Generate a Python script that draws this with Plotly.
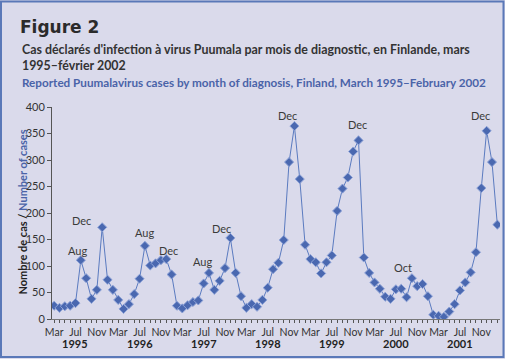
import plotly.graph_objects as go

# ---- data ----
months = ["Mar", "Apr", "May", "Jun", "Jul", "Aug", "Sep", "Oct", "Nov", "Dec", "Jan", "Feb"]
cases = [25, 21, 24, 25, 30, 111, 77, 38, 55, 173,
         74, 55, 36, 19, 28, 47, 76, 138, 101, 105, 111, 113,
         84, 25, 20, 26, 32, 35, 67, 87, 55, 72, 96, 153,
         87, 43, 21, 28, 23, 36, 59, 94, 106, 149, 296, 364,
         264, 140, 113, 107, 86, 107, 120, 204, 246, 267, 316, 337,
         116, 87, 69, 57, 42, 38, 56, 57, 41, 77, 62, 66,
         43, 8, 6, 4, 14, 28, 54, 69, 88, 126, 247, 355,
         296, 178]
year_labels = ["1995", "1996", "1997", "1998", "1999", "2000", "2001"]
peak_labels = [(5, "Aug"), (9, "Dec"), (17, "Aug"), (21, "Dec"), (29, "Aug"),
               (33, "Dec"), (45, "Dec"), (57, "Dec"), (67, "Oct"), (81, "Dec")]
y_ticks = [0, 50, 100, 150, 200, 250, 300, 350, 400]

# ---- style ----
peak_shifts = [(-3, 10), (-21, 7), (0, 13), (2, 9), (-6, 11),
               (-9, 9), (-7, 11), (-1, 16), (-9, 11), (-6, 15)]
BG = "#dadaeb"
BLUE = "#4a63a8"
LINE = "#5b7bc0"
COND = "Lato, Roboto, Liberation Sans, Arial"
SANS = "Lato, Open Sans, Liberation Sans, Arial"

x = list(range(len(cases)))
month_text = [months[i % 12] for i in x]
tick_text = [m if i % 4 == 0 else "" for i, m in enumerate(month_text)]

fig = go.Figure()
fig.add_trace(go.Scatter(
    x=x, y=cases, mode="lines+markers",
    line=dict(color=LINE, width=1),
    marker=dict(symbol="diamond", size=7, color="#4a68b0",
                line=dict(color="#8ea3d8", width=1)),
    hoverinfo="skip", showlegend=False))

W, H = 505, 359
L, R, T, B = 52, 5, 107, 40
pw, ph = W - L - R, H - T - B

def px(xp):
    return (xp - L) / pw

def py(yp):
    return (H - B - yp) / ph

annotations = []
for (i, lab), (dx, dy) in zip(peak_labels, peak_shifts):
    annotations.append(dict(x=i, y=cases[i], text=lab, showarrow=False,
                            xshift=dx, yshift=dy, yanchor="middle",
                            font=dict(family=SANS, size=11, color="#3a3a3a")))
for k, yl in enumerate(year_labels):
    annotations.append(dict(x=4 + 12 * k, y=0, xref="x", yref="paper", text="<b>" + yl + "</b>",
                            showarrow=False, yshift=-24, yanchor="middle",
                            font=dict(family=SANS, size=11, color="#222")))
# titles
annotations.append(dict(x=px(18), y=py(27), xref="paper", yref="paper", xanchor="left",
                        yanchor="middle", showarrow=False, text="<b>Figure 2</b>",
                        font=dict(family="DejaVu Sans, Arial Black", size=17, color="#2b2b2b")))
annotations.append(dict(x=px(20), y=py(40), xref="paper", yref="paper", xanchor="left",
                        yanchor="top", align="left", showarrow=False,
                        text="<b>Cas déclarés d'infection à virus Puumala par mois de diagnostic, en Finlande, mars<br>1995–février 2002</b>",
                        font=dict(family=COND, size=12.4, color="#333")))
annotations.append(dict(x=px(20), y=py(82), xref="paper", yref="paper", xanchor="left",
                        yanchor="middle", showarrow=False,
                        text="<b>Reported Puumalavirus cases by month of diagnosis, Finland, March 1995–February 2002</b>",
                        font=dict(family=COND, size=11.7, color=BLUE)))
annotations.append(dict(x=px(13), y=py(212), xref="paper", yref="paper", textangle=-90,
                        showarrow=False,
                        text="<b>Nombre de cas / </b><span style='color:" + BLUE + "'><b>Number of cases</b></span>",
                        font=dict(family=COND, size=11, color="#222")))

fig.update_layout(
    width=W, height=H,
    margin=dict(l=L, r=R, t=T, b=B),
    paper_bgcolor=BG, plot_bgcolor=BG,
    annotations=annotations,
    shapes=[dict(type="rect", xref="paper", yref="paper",
                 x0=px(1), x1=px(503.5), y0=py(357), y1=py(1.5),
                 line=dict(color="#5a78b8", width=2), layer="below")],
    xaxis=dict(range=[-0.4, 83.5], tickmode="array", tickvals=x, ticktext=tick_text,
               ticks="outside", ticklen=3, tickcolor="#555", tickwidth=1,
               showline=True, linecolor="#777", linewidth=1, showgrid=False, zeroline=False,
               tickangle=0, tickfont=dict(family=SANS, size=10.5, color="#333")),
    yaxis=dict(range=[0, 400], tickvals=y_ticks, ticks="outside", ticklen=4,
               tickcolor="#555", showline=True, linecolor="#555", linewidth=1,
               showgrid=False, zeroline=False,
               tickfont=dict(family=SANS, size=11, color="#333")),
)

fig.write_html("out.html", config={"displayModeBar": False},
               post_script="document.body.style.margin='0';document.body.style.overflow='hidden';")
